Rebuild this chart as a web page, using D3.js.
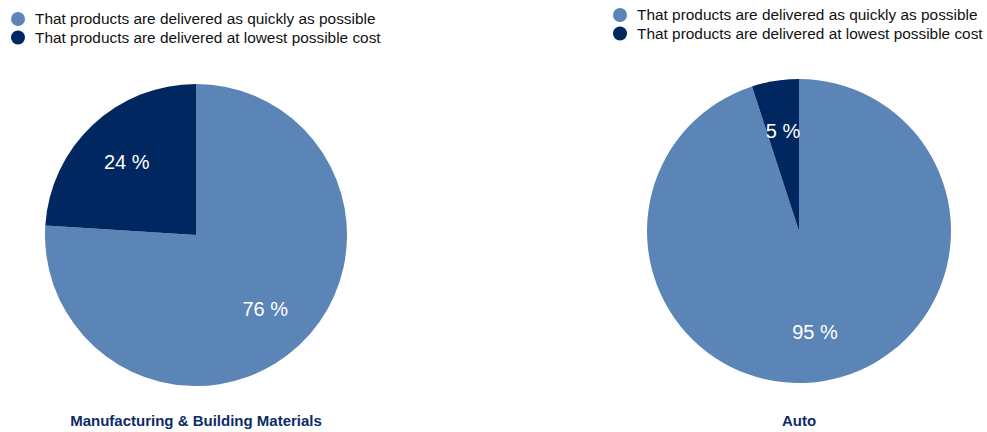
<!DOCTYPE html>
<html><head><meta charset="utf-8">
<script src="https://cdn.jsdelivr.net/npm/d3@7"></script>
<style>body{margin:0;background:#fff;} svg{display:block;font-family:"Liberation Sans",Arial,Helvetica,sans-serif;}</style>
</head><body>
<script>
const categories = ["That products are delivered as quickly as possible", "That products are delivered at lowest possible cost"];
const colors = ["#5b84b7", "#00275f"];
const pieTitles = ["Manufacturing & Building Materials", "Auto"];
const manufacturingValues = [76, 24];
const autoValues = [95, 5];

const W = 987, H = 432;
const svg = d3.select("body").append("svg").attr("width", W).attr("height", H);

const charts = [
  {title: pieTitles[0], values: manufacturingValues, cx: 196, cy: 235, r: 151, legendX: 18, legendY: 19, titleY: 426},
  {title: pieTitles[1], values: autoValues, cx: 799, cy: 231, r: 152, legendX: 620, legendY: 15, titleY: 426}
];

const color = d3.scaleOrdinal().domain(categories).range(colors);

charts.forEach(c => {
  const data = categories.map((k, i) => ({key: k, value: c.values[i]}));
  const pie = d3.pie().value(d => d.value).sort(null);
  const arcs = pie(data);
  const arc = d3.arc().innerRadius(0).outerRadius(c.r);
  const labelArc = d3.arc().innerRadius(c.r * 0.67).outerRadius(c.r * 0.67);
  const g = svg.append("g").attr("transform", `translate(${c.cx},${c.cy})`);
  g.selectAll("path").data(arcs).join("path")
    .attr("d", arc).attr("fill", d => color(d.data.key));
  g.selectAll("text").data(arcs).join("text")
    .attr("transform", d => `translate(${labelArc.centroid(d)})`)
    .attr("text-anchor", "middle").attr("dy", "0.38em")
    .attr("fill", "#fff").style("font-size", "20px")
    .text(d => d.data.value + " %");

  const lg = svg.append("g").attr("transform", `translate(${c.legendX},${c.legendY})`);
  const items = lg.selectAll("g").data(categories).join("g")
    .attr("transform", (d, i) => `translate(0,${i * 18.5})`);
  items.append("circle").attr("r", 7).attr("fill", d => color(d));
  items.append("text").attr("x", 17).attr("dy", "0.35em")
    .style("font-size", "15.4px").attr("fill", "#111").text(d => d);

  svg.append("text").attr("x", c.cx).attr("y", c.titleY)
    .attr("text-anchor", "middle").style("font-size", "15px").style("font-weight", "bold")
    .attr("fill", "#0b2c68").text(c.title);
});
</script>
</body></html>
